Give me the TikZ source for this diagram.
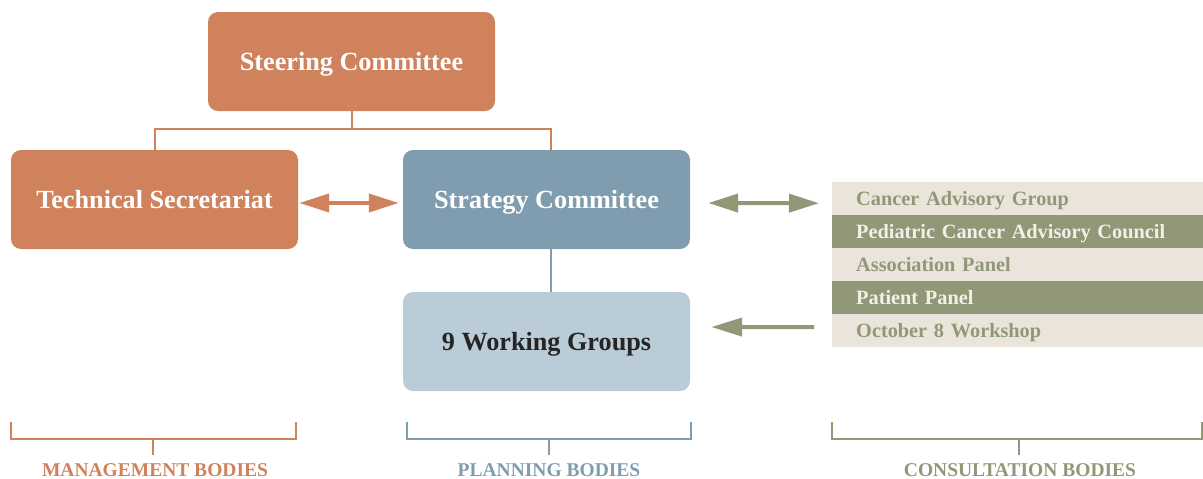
\documentclass[tikz,border=0pt]{standalone}
\usepackage{fontspec}
\setmainfont{Liberation Serif}
\usetikzlibrary{arrows.meta}

\definecolor{mgmt}{RGB}{207,130,91}
\definecolor{plan}{RGB}{127,157,175}
\definecolor{planlight}{RGB}{185,204,215}
\definecolor{cons}{RGB}{145,152,120}
\definecolor{consbg}{RGB}{235,228,218}
\definecolor{ink}{RGB}{38,36,36}

% tighter word spacing for the list rows
\newcommand{\rowfont}{\fontsize{20.3}{22}\selectfont\bfseries\fontdimen2\font=3.6pt\relax}

\begin{document}
\begin{tikzpicture}[x=1pt,y=-1pt,
    body/.style={rounded corners=10pt, minimum width=287pt, minimum height=99pt, inner sep=0pt,
                 text height=17pt, text depth=0pt,
                 font=\fontsize{26.2}{28}\selectfont\bfseries, text=white},
    row/.style={anchor=north west, minimum height=33pt, inner ysep=0pt, inner xsep=24pt,
                text height=13pt, text depth=0pt,
                text width=323pt, font=\rowfont},
    rowlight/.style={row, fill=consbg, text=cons},
    rowdark/.style={row, fill=cons, text=consbg!60!white},
    link/.style={line width=2pt},
    dblarrow/.style={line width=4pt, {Triangle[length=30pt,width=18pt]}-{Triangle[length=30pt,width=18pt]}},
    onearrow/.style={line width=4pt, {Triangle[length=31pt,width=18pt]}-},
    bracket/.style={line width=2.5pt},
    caption/.style={font=\fontsize{19.5}{21}\selectfont\bfseries, inner sep=0pt,
                    text height=13pt, text depth=0pt}]
    \useasboundingbox (0,0) rectangle (1203,479);

    % Boxes
    \node [body, fill=mgmt] (steer) at (351.5,61.5) {Steering Committee};
    \node [body, fill=mgmt] (tech) at (154.5,199.5) {Technical Secretariat};
    \node [body, fill=plan] (strat) at (546.5,199.5) {Strategy Committee};
    \node [body, fill=planlight, text=ink] (work) at (546.5,341.5) {9 Working Groups};

    % Consultation list
    \node [rowlight] (c1) at (832,182) {Cancer Advisory Group};
    \node [rowdark]  (c2) at (832,215) {Pediatric Cancer Advisory Council};
    \node [rowlight] (c3) at (832,248) {Association Panel};
    \node [rowdark]  (c4) at (832,281) {Patient Panel};
    \node [rowlight] (c5) at (832,314) {October 8 Workshop};

    % Tree lines
    \coordinate (jn) at (steer.south |- 0,129);
    \draw [link, mgmt] (steer.south) -- (jn);
    \draw [link, mgmt] (tech.north) |- (jn) -| ([xshift=4.5pt]strat.north);
    \draw [link, plan] ([xshift=4.5pt]strat.south) -- ([xshift=4.5pt]work.north);

    % Arrows
    \draw [dblarrow, mgmt] ([shift={(1,3.5)}]tech.east) -- ([shift={(-4,3.5)}]strat.west);
    \draw [dblarrow, cons] ([shift={(18,3.5)}]strat.east) -- ([shift={(-13,4.5)}]c1.west);
    \draw [onearrow, cons] ([shift={(21,-14.5)}]work.east) -- ([shift={(-18,-3.5)}]c5.west);

    % Brackets
    \draw [bracket, mgmt] (11,422) |- (296,439) -- (296,422);
    \draw [bracket, mgmt] (153,439) -- (153,455);
    \node [caption, text=mgmt] (lmgmt) at (155,469.5) {MANAGEMENT BODIES};

    \draw [bracket, plan] (407,422) |- (691,439) -- (691,422);
    \draw [bracket, plan] (549,439) -- (549,455);
    \node [caption, text=plan] (lplan) at (549,469.5) {PLANNING BODIES};

    \draw [bracket, cons] (832,422) |- (1202,439) -- (1202,422);
    \draw [bracket, cons] (1019,439) -- (1019,455);
    \node [caption, text=cons] (lcons) at (1020,469.5) {CONSULTATION BODIES};
\end{tikzpicture}
\end{document}
